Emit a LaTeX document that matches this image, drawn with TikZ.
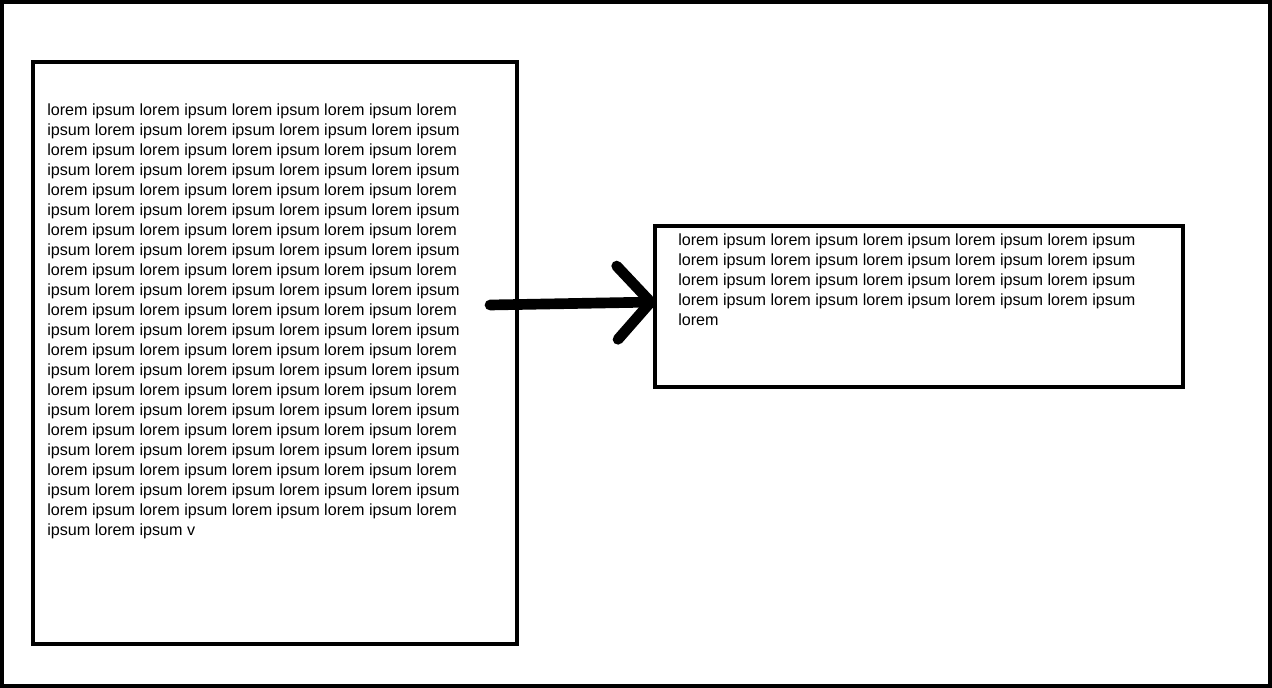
\documentclass[tikz,border=0pt]{standalone}
\usepackage{fontspec}
\setmainfont{Liberation Sans}
\usetikzlibrary{arrows.meta, positioning}

\newcommand{\loremA}{lorem ipsum lorem ipsum lorem ipsum lorem ipsum lorem}
\newcommand{\loremB}{ipsum lorem ipsum lorem ipsum lorem ipsum lorem ipsum}
\newcommand{\loremC}{lorem ipsum lorem ipsum lorem ipsum lorem ipsum lorem ipsum}

\begin{document}
\begin{tikzpicture}[x=0.75pt, y=-0.75pt]
  \tikzset{
    box/.style={draw, line width=2.6pt, inner sep=0pt, outer sep=0pt, anchor=north west},
    lorem/.style={anchor=north west, inner sep=0pt, align=left,
      font=\fontsize{12.1}{15}\selectfont},
    bigarrow/.style={line width=8pt, line cap=round,
      -{Straight Barb[length=25pt, width=55pt, round]}}
  }
  \useasboundingbox (0,0) rectangle (1272,688);
  \draw[line width=3pt] (2,2) rectangle (1270,686);

  % the two boxes
  \node[box, minimum width=363pt, minimum height=436.5pt] (left) at (33,62) {};
  \node[box, minimum width=396pt, minimum height=120.75pt] (right) at (655,226) {};

  % texts
  \node[lorem] (lefttext) at (47,104) {\loremA\\ \loremB\\ \loremA\\ \loremB\\
    \loremA\\ \loremB\\ \loremA\\ \loremB\\ \loremA\\ \loremB\\ \loremA\\
    \loremB\\ \loremA\\ \loremB\\ \loremA\\ \loremB\\ \loremA\\ \loremB\\
    \loremA\\ \loremB\\ \loremA\\ ipsum lorem ipsum v};
  \node[lorem] (righttext) at (678,234) {\loremC\\ \loremC\\ \loremC\\ \loremC\\ lorem};

  % arrow
  \coordinate (tail) at (490,305);
  \coordinate (head) at (656,302);
  \draw[bigarrow] (tail) -- (head);
\end{tikzpicture}
\end{document}
